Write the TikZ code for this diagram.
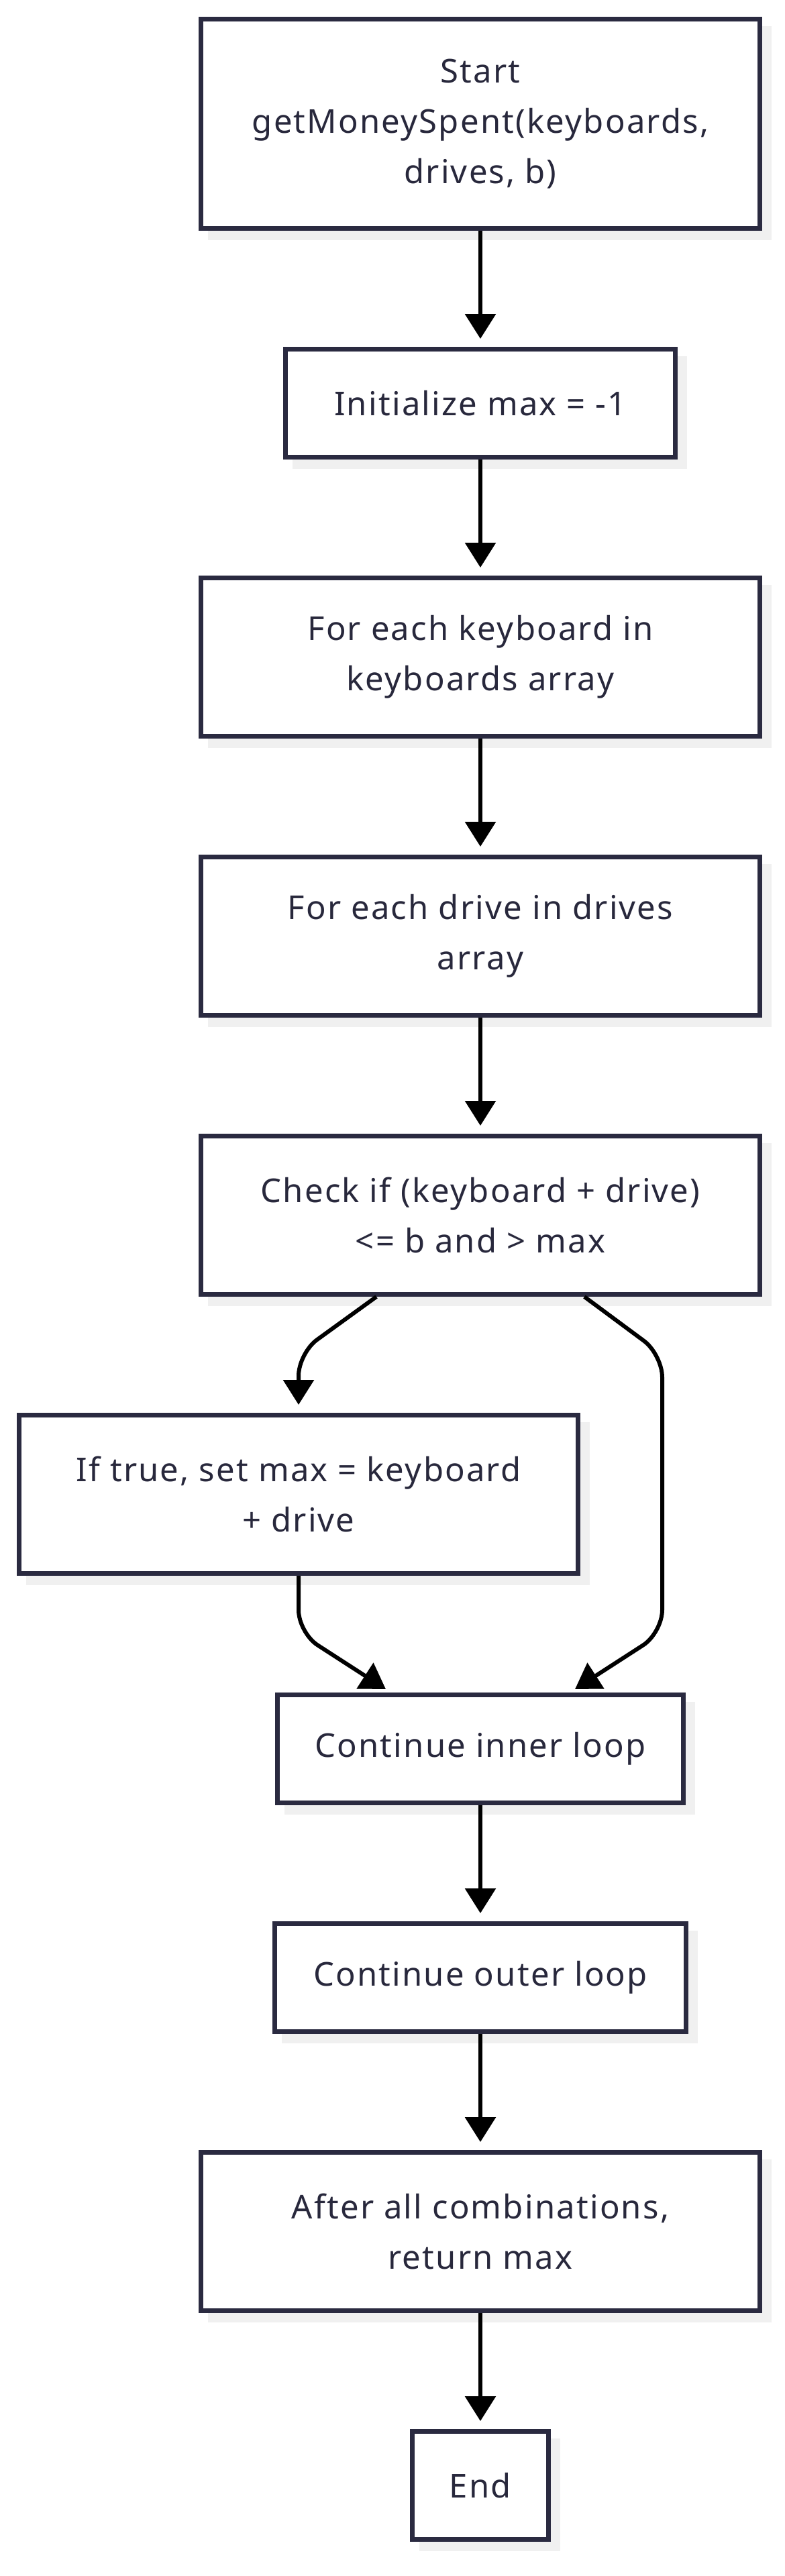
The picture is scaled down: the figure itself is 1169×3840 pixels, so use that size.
\documentclass[tikz,border=0pt]{standalone}
\usepackage{fontspec}
\setmainfont{Noto Sans}[LetterSpace=4.5]
\usetikzlibrary{arrows.meta,calc,shadows}
\definecolor{boxline}{HTML}{2A2A40}
\definecolor{boxtext}{HTML}{28283C}
\definecolor{shadowc}{HTML}{F0F0F0}
\begin{document}
\begin{tikzpicture}[x=0.5pt,y=-0.5pt,
  box/.style={draw=boxline, line width=3.3pt, fill=white, text=boxtext,
    align=center, inner sep=0pt, outer sep=1.65pt,
    font=\fontsize{24.5pt}{37.5pt}\selectfont,
    general shadow={shadow xshift=7pt, shadow yshift=-7pt, fill=shadowc, draw=shadowc, line width=3.3pt}},
  wide/.style={box, minimum width=416.7pt, minimum height=118.2pt},
  single/.style={box, minimum height=80.7pt},
  arr/.style={draw=black, line width=3pt, -{Triangle[length=18.5pt,width=22.5pt]}},
  bentarr/.style={arr, rounded corners=17pt},
]
\useasboundingbox (0,0) rectangle (1169,3840);

\node[box, minimum width=416.7pt, minimum height=156.2pt] (start) at (716,184.5)
  {Start\\getMoneySpent(keyboards,\\drives, b)};
\node[single, minimum width=290.7pt] (init) at (716,601) {Initialize max = -1};
\node[wide] (fek) at (716,979.5) {For each keyboard in\\keyboards array};
\node[wide] (fed) at (716,1395.5) {For each drive in drives\\array};
\node[wide] (check) at (716,1811.5) {Check if (keyboard + drive)\\<= b and > max};
\node[wide] (iftrue) at (445,2227.5) {If true, set max = keyboard\\+ drive};
\node[single, minimum width=302.7pt] (inner) at (716,2607) {Continue inner loop};
\node[single, minimum width=306.7pt] (outer) at (716,2948) {Continue outer loop};
\node[wide] (after) at (716,3326.5) {After all combinations,\\return max};
\node[single, minimum width=101.7pt] (stop) at (716,3705) {End};

\coordinate (lt) at (445,2017);
\coordinate (rt) at (987,2019);
\coordinate (rb) at (987,2434);
\coordinate (lb) at (445,2434);

\draw[arr, shorten >=6pt] (start) -- (init);
\draw[arr, shorten >=6pt] (init) -- (fek);
\draw[arr, shorten >=6pt] (fek) -- (fed);
\draw[arr, shorten >=6pt] (fed) -- (check);
\draw[bentarr, shorten >=6pt] ($(check.south)+(-155,0)$) -- (lt) -- (iftrue.north);
\draw[bentarr] ($(check.south)+(155,0)$) -- (rt) -- (rb) -- ($(inner.north)+(141,-5)$);
\draw[bentarr] (iftrue.south) -- (lb) -- ($(inner.north)+(-141,-5)$);
\draw[arr, shorten >=6pt] (inner) -- (outer);
\draw[arr, shorten >=6pt] (outer) -- (after);
\draw[arr, shorten >=6pt] (after) -- (stop);
\end{tikzpicture}
\end{document}
